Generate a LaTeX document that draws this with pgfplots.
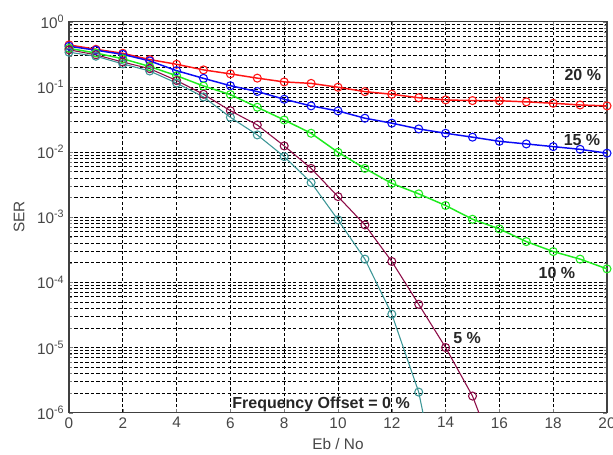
\documentclass[border=0pt]{standalone}
\usepackage{fontspec}
\setmainfont{Liberation Sans}
\usepackage{pgfplots}
\pgfplotsset{compat=1.18}
\definecolor{cred}{RGB}{255,20,20}
\definecolor{cblue}{RGB}{10,10,245}
\definecolor{cgreen}{RGB}{30,235,30}
\definecolor{cmaroon}{RGB}{140,10,70}
\definecolor{cteal}{RGB}{60,150,150}
\definecolor{ticklab}{RGB}{70,70,70}
\begin{document}
\begin{tikzpicture}
\useasboundingbox (-51.75pt,-31pt) rectangle (408pt,309.5pt);
\begin{axis}[
  at={(0,0)}, anchor=south west,
  scale only axis, width=403.5pt, height=293.25pt,
  xmin=0, xmax=20, ymin=1e-6, ymax=1,
  ymode=log,
  xtick={0,2,...,20},
  ytick={1e-6,1e-5,1e-4,1e-3,1e-2,1e-1,1},
  yticklabels={10\textsuperscript{-6},10\textsuperscript{-5},10\textsuperscript{-4},10\textsuperscript{-3},10\textsuperscript{-2},10\textsuperscript{-1},10\textsuperscript{0}},
  /pgf/number format/assume math mode=true,
  tick label style={font=\fontsize{11.5}{13}\selectfont, text=ticklab},
  tick align=inside,
  major tick length=3pt, minor tick length=2pt,
  xmajorgrids, ymajorgrids, yminorgrids,
  major grid style={black, dash pattern=on 2.5pt off 1.6pt, line width=0.5pt},
  minor grid style={black, dash pattern=on 2.5pt off 1.6pt, line width=0.5pt},
  axis line style={black!75, line width=0.8pt},
  xlabel={Eb / No}, ylabel={SER},
  label style={font=\fontsize{11.5}{13}\selectfont, text=ticklab},
  xlabel style={yshift=-1pt},
  ylabel style={yshift=2.5pt},
  every axis plot/.append style={mark=o, mark size=3pt, mark options={solid, line width=0.8pt}},
]
% 20 %
\addplot[cred, line width=1.1pt] coordinates {
(0,0.44) (1,0.377) (2,0.327) (3,0.262) (4,0.222) (5,0.182) (6,0.158) (7,0.136) (8,0.119) (9,0.113)
(10,0.0986) (11,0.0845) (12,0.077) (13,0.068) (14,0.063) (15,0.0615) (16,0.0612) (17,0.0588) (18,0.056) (19,0.0527) (20,0.051)};
% 15 %
\addplot[cblue, line width=1.1pt] coordinates {
(0,0.42) (1,0.365) (2,0.315) (3,0.25) (4,0.177) (5,0.135) (6,0.104) (7,0.0848) (8,0.0645) (9,0.051)
(10,0.0427) (11,0.033) (12,0.0277) (13,0.0226) (14,0.0194) (15,0.0169) (16,0.0146) (17,0.0133) (18,0.0121) (19,0.011) (20,0.0096)};
% 10 %
\addplot[cgreen, line width=1.1pt] coordinates {
(0,0.39) (1,0.33) (2,0.27) (3,0.205) (4,0.148) (5,0.103) (6,0.076) (7,0.0486) (8,0.031) (9,0.0194)
(10,0.0099) (11,0.0056) (12,0.0033) (13,0.00228) (14,0.00151) (15,0.00093) (16,0.00066) (17,0.000422) (18,0.000297) (19,0.000227) (20,0.000161)};
% 5 %
\addplot[cmaroon, line width=0.8pt] coordinates {
(0,0.37) (1,0.31) (2,0.24) (3,0.19) (4,0.125) (5,0.077) (6,0.043) (7,0.026) (8,0.0124) (9,0.0056)
(10,0.00207) (11,0.00076) (12,0.000209) (13,4.6e-5) (14,1.0e-5) (15,1.8e-6) (16,1.5e-7)};
% 0 %
\addplot[cteal, line width=0.8pt] coordinates {
(0,0.34) (1,0.295) (2,0.225) (3,0.175) (4,0.114) (5,0.07) (6,0.034) (7,0.0183) (8,0.0085) (9,0.0034)
(10,0.00091) (11,0.000227) (12,3.25e-5) (13,2.07e-6) (14,2e-8)};
\node[font=\fontsize{12}{14}\selectfont\bfseries, text=black!85] at (axis cs:19.1,0.152) {20 \%};
\node[font=\fontsize{12}{14}\selectfont\bfseries, text=black!85] at (axis cs:19.07,0.0153) {15 \%};
\node[font=\fontsize{12}{14}\selectfont\bfseries, text=black!85] at (axis cs:18.14,1.4e-4) {10 \%};
\node[font=\fontsize{12}{14}\selectfont\bfseries, text=black!85] at (axis cs:14.8,1.41e-5) {5 \%};
\node[font=\fontsize{12}{14}\selectfont\bfseries, text=black!85] at (axis cs:9.37,1.32e-6) {Frequency Offset = 0 \%};
\end{axis}
\end{tikzpicture}
\end{document}
